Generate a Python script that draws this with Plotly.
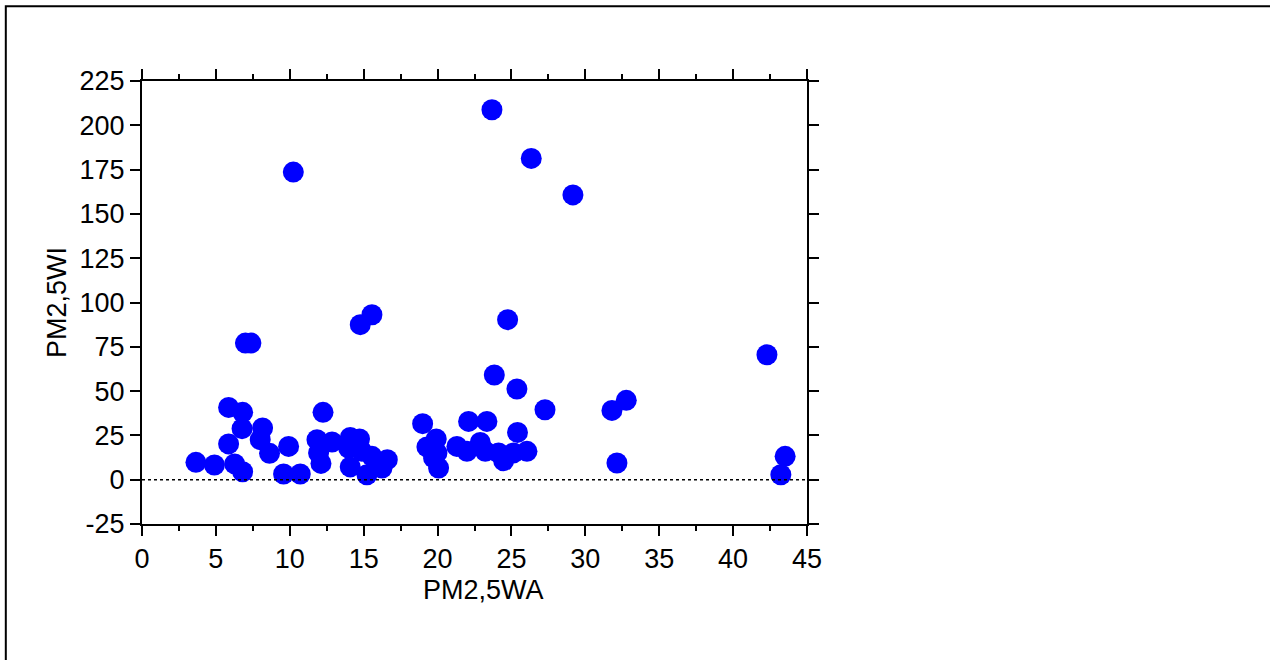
import plotly.graph_objects as go

pm25_wa = [3.65, 4.9, 5.86, 5.86, 6.27, 6.81, 6.77, 6.81, 7.0, 7.37,
           8.16, 8.0, 8.63, 9.92, 9.58, 10.71, 10.24, 12.25, 11.84, 12.86,
           11.95, 12.11, 14.09, 14.72, 13.98, 14.88, 15.56, 14.09, 15.22, 16.24,
           16.6, 14.77, 15.56, 18.99, 19.91, 19.28, 19.96, 19.73, 20.07, 21.31,
           21.99, 22.10, 22.89, 23.23, 23.34, 24.13, 24.47, 25.14, 26.05, 25.41,
           23.84, 25.37, 24.74, 23.68, 26.34, 29.16, 27.27, 31.80, 32.77, 32.14,
           42.29, 43.52, 43.23]
pm25_wi = [9.8, 8.3, 40.8, 20.2, 8.9, 38.0, 28.8, 4.5, 77.1, 77.1,
           29.2, 22.6, 14.9, 18.8, 3.2, 3.2, 173.6, 38.0, 22.6, 21.3,
           15.1, 9.2, 23.8, 23.0, 17.9, 16.0, 13.2, 7.2, 2.8, 6.6,
           11.3, 87.5, 93.1, 31.6, 23.0, 18.5, 15.1, 12.3, 6.6, 18.8,
           16.0, 32.9, 21.0, 16.0, 32.9, 15.1, 10.7, 15.1, 16.0, 26.7,
           59.1, 51.2, 90.3, 208.8, 181.3, 160.7, 39.5, 39.1, 44.8, 9.4,
           70.5, 13.2, 2.8]

x_ticks = [0, 5, 10, 15, 20, 25, 30, 35, 40, 45]
y_ticks = [-25, 0, 25, 50, 75, 100, 125, 150, 175, 200, 225]

FONT = "Liberation Sans, Arial, sans-serif"
FS = 27

fig = go.Figure()
fig.add_trace(go.Scatter(
    x=pm25_wa, y=pm25_wi, mode="markers",
    marker=dict(size=21, color="#0000FF", line=dict(width=0)),
    showlegend=False, cliponaxis=False,
))

axis_common = dict(
    showgrid=False, zeroline=False, showline=True, linecolor="black",
    linewidth=2, mirror="ticks", ticks="outside", ticklen=10, tickwidth=2,
    tickcolor="black", tickfont=dict(family=FONT, size=FS, color="black"),
)

fig.update_xaxes(
    range=[0, 45], tickmode="array", tickvals=x_ticks,
    ticktext=[str(v) for v in x_ticks],
    minor=dict(ticks="outside", dtick=2.5, tick0=0, ticklen=5, tickwidth=2, tickcolor="black"),
    **axis_common,
)
fig.update_yaxes(
    range=[-25, 225], tickmode="array", tickvals=y_ticks,
    ticktext=[str(v) for v in y_ticks],
    title=dict(text="PM2,5WI", font=dict(family=FONT, size=FS, color="black"), standoff=5),
    **axis_common,
)

# x-axis title placed as annotation (slightly right of centre, as in the reference)
fig.add_annotation(text="PM2,5WA", xref="paper", yref="paper", x=0.513, y=0,
                   yshift=-66, xanchor="center", yanchor="middle", showarrow=False,
                   font=dict(family=FONT, size=FS, color="black"))

fig.add_shape(type="line", xref="paper", yref="y", x0=0, x1=1, y0=0, y1=0,
              line=dict(color="black", width=1.5, dash="dot"))
fig.add_shape(type="rect", xref="paper", yref="paper",
              x0=-0.2048, x1=2, y0=-1, y1=1.1688,
              line=dict(color="black", width=2), fillcolor="rgba(0,0,0,0)", layer="below")

fig.update_layout(
    width=1270, height=660, autosize=False,
    margin=dict(l=142, r=463, t=81, b=136, pad=0),
    paper_bgcolor="white", plot_bgcolor="white",
    font=dict(family=FONT, color="black"),
)

fig.write_html("out.html", config={"displayModeBar": False},
               post_script="document.body.style.margin='0';document.body.style.overflow='hidden';")
